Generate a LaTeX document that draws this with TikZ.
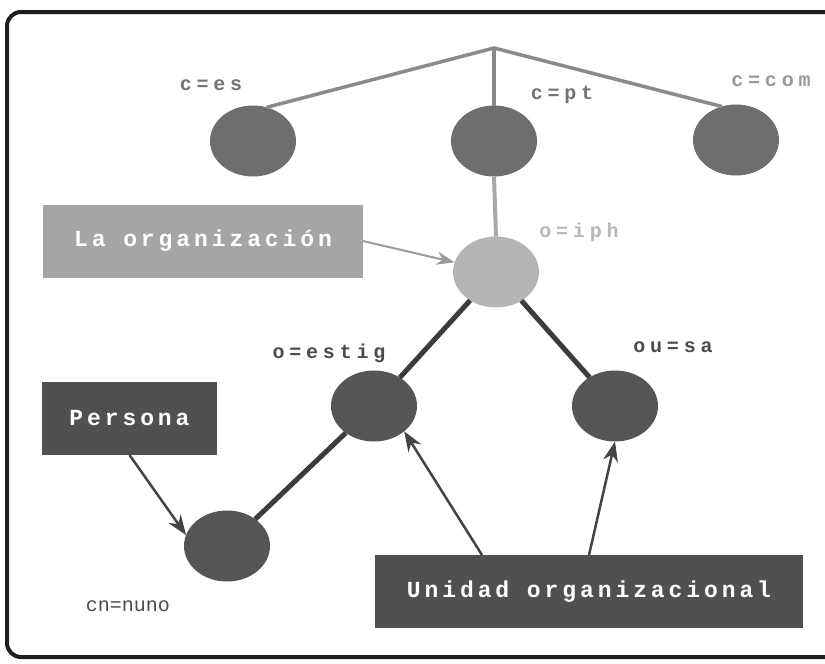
\documentclass[tikz,border=0pt]{standalone}
\usepackage{fontspec}
\usetikzlibrary{arrows.meta,shapes.geometric,calc}
\newfontfamily\labfont[LetterSpace=24]{Liberation Mono}
\newfontfamily\plainlab{Liberation Mono}
\newfontfamily\boxfont[LetterSpace=17]{Liberation Mono}
\definecolor{framec}{HTML}{1E1E1E}
\definecolor{topnode}{HTML}{6E6E6E}
\definecolor{darknode}{HTML}{555555}
\definecolor{lightnode}{HTML}{B5B5B5}
\definecolor{darkbox}{HTML}{505050}
\definecolor{lightbox}{HTML}{A5A5A5}
\definecolor{treegray}{HTML}{8A8A8A}
\definecolor{stemgray}{HTML}{A8A8A8}
\definecolor{branchdark}{HTML}{3C3C3C}
\definecolor{arrdark}{HTML}{444444}
\definecolor{arrlight}{HTML}{9A9A9A}
\tikzset{
  entry/.style={ellipse, minimum width=86pt, minimum height=71pt, inner sep=0pt, outer sep=0pt},
  topentry/.style={entry, fill=topnode},
  darkentry/.style={entry, fill=darknode},
  lightentry/.style={entry, fill=lightnode},
  tagbox/.style={rectangle, inner sep=0pt, outer sep=0pt, text=white, font=\boxfont\fontsize{23}{27}\selectfont\bfseries},
  lab/.style={inner sep=0pt, font=\labfont\fontsize{20}{24}\selectfont\bfseries},
  treeline/.style={draw=treegray, line width=3.5pt},
  stemline/.style={draw=stemgray, line width=4pt},
  branch/.style={draw=branchdark, line width=5pt},
  ptr/.style={draw=arrdark, line width=2.5pt, -{Stealth[length=20pt,width=15pt]}},
  lightptr/.style={draw=arrlight, line width=2pt, -{Stealth[length=18pt,width=13pt]}}
}
\begin{document}
\begin{tikzpicture}[x=1pt,y=-1pt]
\useasboundingbox (0,0) rectangle (825,664);
\fill[white] (0,0) rectangle (825,664);
\draw[draw=framec, line width=4pt, rounded corners=14pt] (7,12) rectangle (845,657);

% nodes
\coordinate (apex) at (494,48);
\node[topentry] (es) at (253,141) {};
\node[topentry] (pt) at (494,141) {};
\node[topentry] (com) at (736,140) {};
\node[lightentry] (iph) at (496,272) {};
\node[darkentry] (estig) at (374,406) {};
\node[darkentry] (sa) at (615,406) {};
\node[darkentry] (nuno) at (227,546) {};

% labels
\node[lab, text=black!55] (les) at (211,85) {c=es};
\node[lab, text=black!55] (lpt) at (562,95) {c=pt};
\node[lab, text=black!40] (lcom) at (771,81) {c=com};
\node[lab, text=black!28] (liph) at (579,232) {o=iph};
\node[lab, text=black!70] (lestig) at (329,353) {o=estig};
\node[lab, text=black!70] (lsa) at (673,347) {ou=sa};
\node[inner sep=0pt, text=black!70, font=\plainlab\fontsize{20}{24}\selectfont] (lnuno) at (128,606) {cn=nuno};

% boxes
\node[tagbox, fill=lightbox, minimum width=320pt, minimum height=73pt] (org) at (203,241) {La organización};
\node[tagbox, fill=darkbox, minimum width=175pt, minimum height=73pt] (persona) at (129.5,418.5) {Persona};
\node[tagbox, fill=darkbox, minimum width=428pt, minimum height=73pt] (unidad) at (589,591.5) {Unidad organizacional};

% tree
\draw[treeline] (es.68) -- (apex) -- (com.113);
\draw[treeline] (apex) -- (pt.north);
\draw[stemline] (pt.south) -- (iph.north);
\draw[branch] (iph) -- (estig);
\draw[branch] (iph) -- (sa);
\draw[branch] (nuno) -- (estig);

% pointers
\draw[lightptr] (org.east) -- (iph);
\draw[ptr] (persona.south) -- (nuno.165);
\coordinate (u1) at ($(unidad.north west)!0.25!(unidad.north east)$);
\draw[ptr] (u1) -- (estig.320);
\draw[ptr] (unidad.north) -- (sa.south);
\end{tikzpicture}
\end{document}
